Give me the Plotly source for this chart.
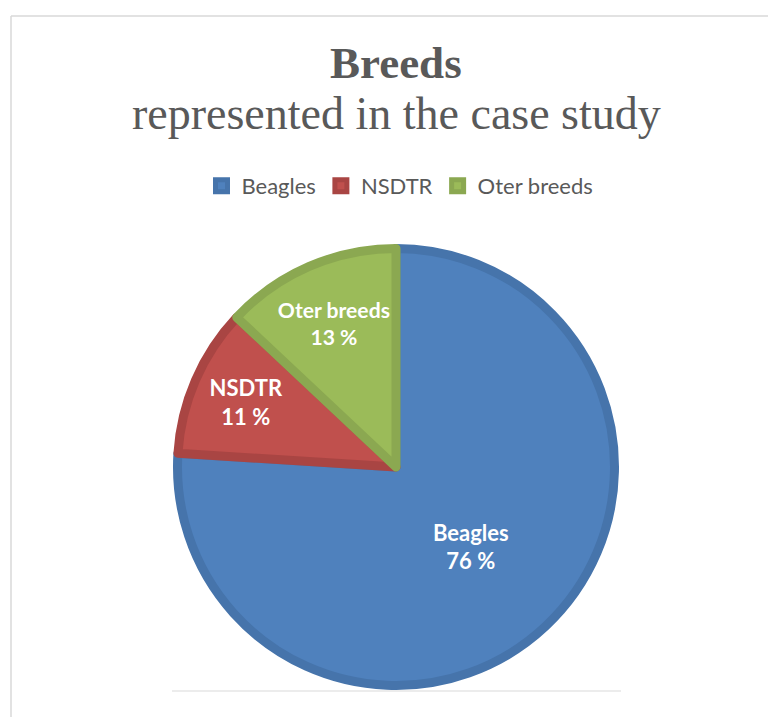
import plotly.graph_objects as go

# Breed shares in the case study (percent)
breeds = ["Beagles", "NSDTR", "Oter breeds"]
shares = [76, 11, 13]

fill_colors = ["#4F81BD", "#C0504D", "#9BBB59"]
edge_colors = ["#4674AB", "#A94543", "#8BA851"]

W, H = 768, 717
cx, cy, r = 396, 467, 218.5  # pie centre and radius in pixels


def px_x(x):
    return x / W


def px_y(y):
    return 1 - y / H


fig = go.Figure(
    go.Pie(
        labels=breeds,
        values=shares,
        sort=False,
        direction="clockwise",
        rotation=0,
        marker=dict(colors=fill_colors, line=dict(color=edge_colors, width=9)),
        texttemplate="<b>%{label}</b><br><b>%{value} %</b>",
        textposition="inside",
        insidetextorientation="horizontal",
        textfont=dict(family="Lato", size=22, color="white"),
        hoverinfo="skip",
        domain=dict(x=[px_x(cx - r), px_x(cx + r)], y=[px_y(cy + r), px_y(cy - r)]),
    )
)

grey = "#D9D9D9"
shapes = [
    # outer frame: top and left edges
    dict(type="line", xref="paper", yref="paper", x0=px_x(11), x1=1, y0=px_y(16), y1=px_y(16),
         line=dict(color=grey, width=1.5)),
    dict(type="line", xref="paper", yref="paper", x0=px_x(11), x1=px_x(11), y0=px_y(16), y1=0,
         line=dict(color=grey, width=1.5)),
    # baseline under the pie
    dict(type="line", xref="paper", yref="paper", x0=px_x(172), x1=px_x(621), y0=px_y(691), y1=px_y(691),
         line=dict(color=grey, width=1.2)),
]

annotations = [
    dict(text="<b>Breeds</b>", x=px_x(396), y=px_y(63), xref="paper", yref="paper",
         xanchor="center", yanchor="middle", showarrow=False,
         font=dict(family="Liberation Serif", size=45, color="#595959")),
    dict(text="represented in the case study", x=px_x(396), y=px_y(113), xref="paper", yref="paper",
         xanchor="center", yanchor="middle", showarrow=False,
         font=dict(family="Liberation Serif", size=46, color="#595959")),
]

fig.update_layout(
    width=W,
    height=H,
    margin=dict(l=0, r=0, t=0, b=0),
    paper_bgcolor="white",
    plot_bgcolor="white",
    shapes=shapes,
    annotations=annotations,
    showlegend=True,
    legend=dict(
        orientation="h",
        x=px_x(400),
        xanchor="center",
        y=px_y(186),
        yanchor="middle",
        font=dict(family="Lato", size=22, color="#595959"),
        itemclick=False,
    ),
)

fig.write_html("out.html", config={"displayModeBar": False})
